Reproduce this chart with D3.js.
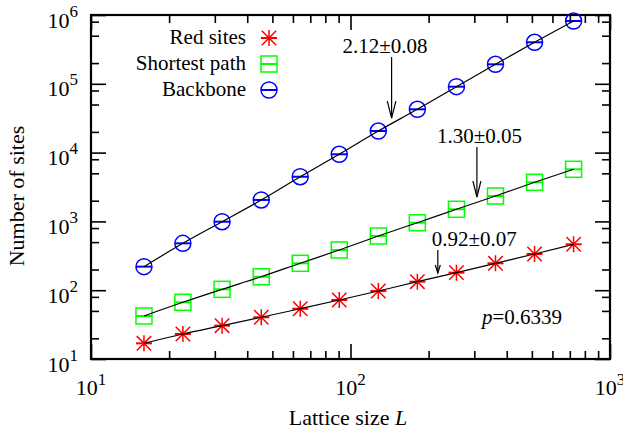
<!DOCTYPE html>
<html>
<head>
<meta charset="utf-8">
<script src="https://cdn.jsdelivr.net/npm/d3@7"></script>
<style>
  body { margin: 0; background: #fff; }
</style>
</head>
<body>
<div id="chart"></div>
<script>
// lattice sizes L
const sizes = [16, 22.6, 32, 45.3, 64, 90.5, 128, 181, 256, 362, 512, 724];

// number of sites per series
const redSites = [16.9, 23.1, 30.5, 40.4, 53.8, 72.0, 97.3, 133, 180, 246, 336, 465];
const shortestPath = [42.2, 66.7, 103, 157, 246, 384, 613, 957, 1500, 2340, 3700, 5720];
const backbone = [220, 480, 990, 2050, 4460, 9450, 20600, 42600, 90800, 192000, 401000, 818000];

const seriesNames = ["Red sites", "Shortest path", "Backbone"];
const seriesColors = ["#ff0000", "#00ff00", "#0000ff"];
const seriesMarkers = ["star", "square", "circle"];

// exponent annotations (arrow at L, from tail value down to tip value)
const annoText = ["2.12\u00b10.08", "1.30\u00b10.05", "0.92\u00b10.07"];
const annoL = [144, 307, 217];
const annoTail = [245000, 12050, 384];
const annoTip = [31800, 2263, 178];

const xMajor = [10, 100, 1000];
const yMajor = [1e1, 1e2, 1e3, 1e4, 1e5, 1e6];

const width = 623;
const height = 436;
const margin = { top: 15, right: 13, bottom: 77, left: 91 };
const w = width - margin.left - margin.right;
const h = height - margin.top - margin.bottom;
const serif = "'Liberation Serif', 'DejaVu Serif', 'Times New Roman', serif";

const svg = d3.select("#chart")
    .append("svg")
    .attr("width", width)
    .attr("height", height)
    .attr("font-family", serif)
    .style("font-family", serif);

const g = svg.append("g")
    .attr("transform", `translate(${margin.left}, ${margin.top})`);

const x = d3.scaleLog().domain([10, 1000]).range([0, w]);
const y = d3.scaleLog().domain([10, 1e6]).range([h, 0]);

// minor ticks: 2..9 on x, 2,5,8 on y
const xMinor = [];
[10, 100].forEach(d => { for (let k = 2; k <= 9; k++) xMinor.push(k * d); });
const yMinor = [];
[1e1, 1e2, 1e3, 1e4, 1e5].forEach(d => [2, 5, 8].forEach(k => yMinor.push(k * d)));

const tickAxes = [
    [d3.axisBottom(x), `translate(0,${h})`, xMajor, xMinor],
    [d3.axisTop(x), "translate(0,0)", xMajor, xMinor],
    [d3.axisLeft(y), "translate(0,0)", yMajor, yMinor],
    [d3.axisRight(y), `translate(${w},0)`, yMajor, yMinor]
];
tickAxes.forEach(([axis, tr, major, minor]) => {
    [[major, 15], [minor, 8]].forEach(([vals, len]) => {
        const a = g.append("g")
            .attr("transform", tr)
            .call(axis.tickValues(vals).tickSize(-len).tickFormat(""));
        a.select(".domain").remove();
        a.selectAll("line").attr("stroke", "#000").attr("stroke-width", 1.6);
    });
});

// frame
g.append("rect")
    .attr("width", w)
    .attr("height", h)
    .attr("fill", "none")
    .attr("stroke", "#000")
    .attr("stroke-width", 2.2);

// tick labels 10^n
const exp = d => Math.round(Math.log10(d));

const xl = g.selectAll(".xlab")
    .data(xMajor)
    .join("text")
    .attr("x", d => x(d))
    .attr("y", h + 36)
    .attr("text-anchor", "middle")
    .style("font-size", "22px");
xl.append("tspan").text("10");
xl.append("tspan").attr("dy", -10).style("font-size", "17px").text(d => exp(d));

const yl = g.selectAll(".ylab")
    .data(yMajor)
    .join("text")
    .attr("x", -13)
    .attr("y", d => y(d) + 12.5)
    .attr("text-anchor", "end")
    .style("font-size", "22px");
yl.append("tspan").text("10");
yl.append("tspan").attr("dy", -11).style("font-size", "17px").text(d => exp(d));

// axis titles
const xt = svg.append("text")
    .attr("x", 348)
    .attr("y", 425)
    .attr("text-anchor", "middle")
    .style("font-size", "22px");
xt.append("tspan").text("Lattice size ");
xt.append("tspan").style("font-style", "italic").text("L");

svg.append("text")
    .attr("transform", "translate(24,196) rotate(-90)")
    .attr("text-anchor", "middle")
    .style("font-size", "22px")
    .text("Number of sites");

// markers
const drawMarker = (sel, type, color) => {
    const s = 8;
    if (type === "circle") {
        sel.append("circle").attr("r", s).attr("fill", "none")
            .attr("stroke", color).attr("stroke-width", 1.5);
    } else if (type === "square") {
        sel.append("rect").attr("x", -s).attr("y", -s)
            .attr("width", 2 * s).attr("height", 2 * s)
            .attr("fill", "none").attr("stroke", color).attr("stroke-width", 1.5);
    } else {
        const d = s * 0.9;
        sel.append("path")
            .attr("d", `M0,${-s}V${s}M${-d},${-d}L${d},${d}M${-d},${d}L${d},${-d}`)
            .attr("stroke", color).attr("stroke-width", 1.5).attr("fill", "none");
    }
    // tiny error bar caps show as a horizontal line
    sel.append("line").attr("x1", -s).attr("x2", s)
        .attr("stroke", color).attr("stroke-width", 2);
};

const allSeries = [redSites, shortestPath, backbone];

const line = d3.line()
    .x(d => x(d[0]))
    .y(d => y(d[1]))
    .curve(d3.curveMonotoneX);

allSeries.forEach((vals, i) => {
    const pts = sizes.map((L, j) => [L, vals[j]]);
    g.selectAll(`.pt${i}`)
        .data(pts)
        .join("g")
        .attr("transform", d => `translate(${x(d[0])},${y(d[1])})`)
        .each(function () { drawMarker(d3.select(this), seriesMarkers[i], seriesColors[i]); });
    g.append("path")
        .datum(pts)
        .attr("d", line)
        .attr("fill", "none")
        .attr("stroke", "#000")
        .attr("stroke-width", 1.2);
});

// legend
const legend = svg.append("g");
seriesNames.forEach((name, i) => {
    const by = 44 + i * 26;
    legend.append("text")
        .attr("x", 246)
        .attr("y", by)
        .attr("text-anchor", "end")
        .style("font-size", "21px")
        .text(name);
    const m = legend.append("g").attr("transform", `translate(269,${by - 6})`);
    drawMarker(m, seriesMarkers[i], seriesColors[i]);
});

// exponent annotations
const textDx = [-49, -40, -6];
const headLen = [17, 16, 8];
const headHalf = [4.3, 4, 2.5];
annoText.forEach((t, i) => {
    const ax = x(annoL[i]);
    const y0 = y(annoTail[i]);
    const y1 = y(annoTip[i]);
    g.append("line")
        .attr("x1", ax).attr("x2", ax)
        .attr("y1", y0).attr("y2", y1)
        .attr("stroke", "#000").attr("stroke-width", 1.2);
    g.append("path")
        .attr("d", `M${ax - headHalf[i]},${y1 - headLen[i]}L${ax},${y1}L${ax + headHalf[i]},${y1 - headLen[i]}`)
        .attr("fill", "none").attr("stroke", "#000").attr("stroke-width", 1.2);
    g.append("text")
        .attr("x", ax + textDx[i])
        .attr("y", y0 - 4)
        .style("font-size", "21px")
        .text(t);
});

const pt = g.append("text")
    .attr("x", w - 48)
    .attr("y", h - 35)
    .attr("text-anchor", "end")
    .style("font-size", "21px");
pt.append("tspan").style("font-style", "italic").text("p");
pt.append("tspan").text("=0.6339");
</script>
</body>
</html>
